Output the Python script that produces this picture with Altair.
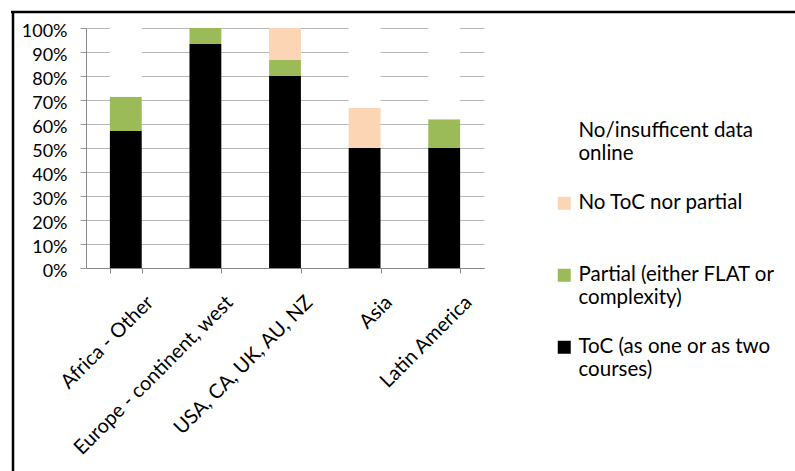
import altair as alt
import pandas as pd

regions = ["Africa - Other", "Europe - continent, west", "USA, CA, UK, AU, NZ", "Asia", "Latin America"]
series = ["ToC (as one or as two courses)", "Partial (either FLAT or complexity)",
          "No ToC nor partial", "No/insufficent data online"]
toc = [0.571, 0.933, 0.800, 0.500, 0.500]
partial = [0.143, 0.067, 0.067, 0.0, 0.120]
no_toc = [0.0, 0.0, 0.133, 0.167, 0.0]
no_data = [0.286, 0.0, 0.0, 0.333, 0.380]
colors = ["#000000", "#9BBB59", "#FCD5B5", "#FFFFFF"]
label_lines = [["ToC (as one or as two", "courses)"],
               ["Partial (either FLAT or", "complexity)"],
               ["No ToC nor partial", ""],
               ["No/insufficent data", "online"]]
y_ticks = [0, 0.1, 0.2, 0.3, 0.4, 0.5, 0.6, 0.7, 0.8, 0.9, 1.0]

rows = []
for si, (name, vals) in enumerate(zip(series, [toc, partial, no_toc, no_data])):
    for r, v in zip(regions, vals):
        rows.append({"region": r, "series": name, "value": v, "stack": si})
df = pd.DataFrame(rows)

parts = []
for name, lines in zip(series, label_lines):
    arr = "[" + ",".join("'" + l + "'" for l in lines) + "]"
    parts.append(f"datum.label == '{name}' ? {arr}")
label_expr = " : ".join(parts) + " : datum.label"

FONT = "Lato"

bars = alt.Chart(df).mark_bar().encode(
    x=alt.X("region:N", sort=regions,
            scale=alt.Scale(paddingInner=0.6, paddingOuter=0.3),
            axis=alt.Axis(title=None, labelAngle=-45, labelAlign="right", labelBaseline="middle",
                          labelFont=FONT, labelFontSize=20, labelColor="#000000",
                          labelOffset=24, labelPadding=26,
                          tickBand="extent", tickSize=5, tickColor="#888888",
                          domainColor="#888888", labelLimit=300)),
    y=alt.Y("value:Q", stack="zero",
            scale=alt.Scale(domain=[0, 1], nice=False),
            axis=alt.Axis(title=None, format=".0%", values=y_ticks,
                          labelFont=FONT, labelFontSize=18, labelColor="#000000",
                          labelPadding=13, labelOffset=3, tickSize=6, tickColor="#999999",
                          domainColor="#888888", gridColor="#B8B8B8")),
    color=alt.Color("series:N",
                    scale=alt.Scale(domain=series[::-1], range=colors[::-1]),
                    legend=alt.Legend(title=None, orient="none", legendX=468, legendY=93,
                                      labelFont=FONT, labelFontSize=20.5, labelColor="#000000",
                                      labelExpr=label_expr, labelLimit=400,
                                      symbolType="square", symbolSize=169,
                                      symbolStrokeWidth=0, symbolOpacity=1,
                                      rowPadding=28, labelOffset=4)),
    order=alt.Order("stack:Q", sort="ascending"),
)

frame_src = pd.DataFrame({"k": [0]})
top_rule = alt.Chart(frame_src).mark_rule(color="#000000", strokeWidth=2.5).encode(
    x=alt.value(-75), x2=alt.value(709), y=alt.value(-16))
left_rule = alt.Chart(frame_src).mark_rule(color="#000000", strokeWidth=2.5).encode(
    x=alt.value(-73), y=alt.value(-17), y2=alt.value(443))

chart = alt.layer(bars, top_rule, left_rule).properties(
    width=398, height=240,
    autosize=alt.AutoSizeParams(type="none"),
    padding={"left": 86, "top": 28, "right": 311, "bottom": 203},
    background="#FFFFFF",
).configure_view(stroke=None)

chart.save("out.html", embed_options={"renderer": "svg", "actions": False})
